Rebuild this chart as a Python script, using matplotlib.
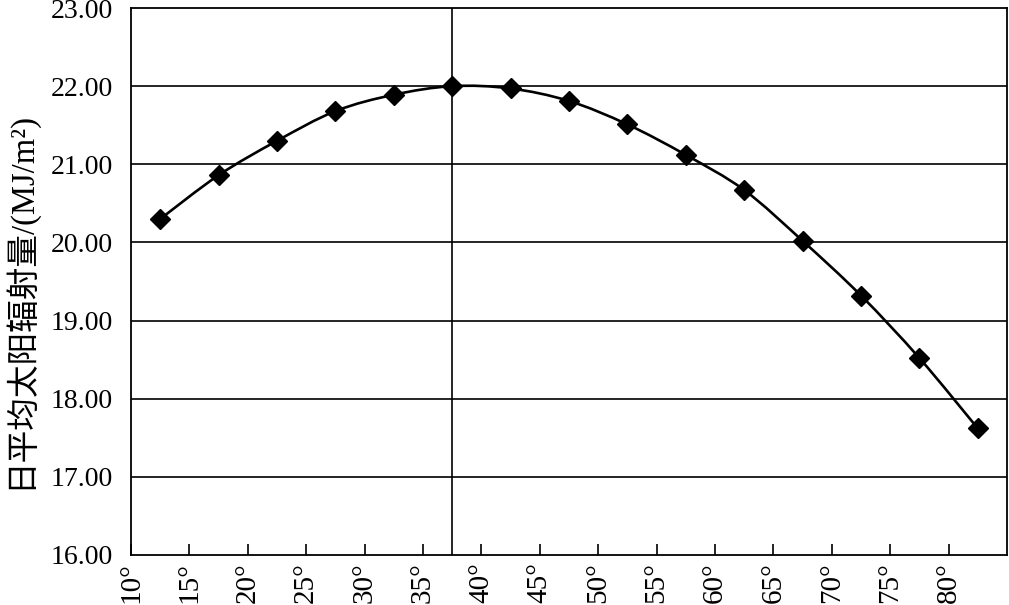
import matplotlib
matplotlib.use("Agg")
import matplotlib.pyplot as plt
from matplotlib.path import Path
from matplotlib.patches import PathPatch
import numpy as np

# Data
tilt_angles = [12.5, 17.5, 22.5, 27.5, 32.5, 37.5, 42.5, 47.5, 52.5, 57.5,
               62.5, 67.5, 72.5, 77.5, 82.5]
radiation = [20.30, 20.86, 21.30, 21.68, 21.89, 22.00, 21.97, 21.81, 21.51,
             21.12, 20.67, 20.02, 19.32, 18.52, 17.62]
x_ticks = [10, 15, 20, 25, 30, 35, 40, 45, 50, 55, 60, 65, 70, 75, 80]
x_tick_labels = [f"{v}°" for v in x_ticks]
y_ticks = [16, 17, 18, 19, 20, 21, 22, 23]
y_tick_labels = [f"{v:.2f}" for v in y_ticks]
optimum_angle = 37.5
y_label = "日平均太阳辐射量/(MJ/m²)"

fonts = ['Liberation Serif', 'Noto Sans CJK SC', 'DejaVu Sans']
plt.rcParams['font.family'] = fonts

fig = plt.figure(figsize=(10.09, 6.05), dpi=100)
ax = fig.add_axes([131 / 1009, 1 - 555 / 605, (1007 - 131) / 1009, (555 - 8) / 605])

ax.set_xlim(10, 85)
ax.set_ylim(16, 23)

# horizontal gridlines
for yv in y_ticks[1:-1]:
    ax.axhline(yv, color='black', lw=1.2, zorder=1)
ax.axvline(optimum_angle, color='black', lw=1.2, zorder=1)

# smoothed line (Catmull-Rom as cubic Bezier)
P = np.column_stack([tilt_angles, radiation])
verts = [tuple(P[0])]
codes = [Path.MOVETO]
n = len(P)
for i in range(n - 1):
    p0 = P[i - 1] if i > 0 else P[i]
    p1 = P[i]
    p2 = P[i + 1]
    p3 = P[i + 2] if i + 2 < n else P[i + 1]
    c1 = p1 + (p2 - p0) / 6.0
    c2 = p2 - (p3 - p1) / 6.0
    verts += [tuple(c1), tuple(c2), tuple(p2)]
    codes += [Path.CURVE4] * 3
patch = PathPatch(Path(verts, codes), facecolor='none', edgecolor='black',
                  lw=1.9, transform=ax.transData, zorder=2)
ax.add_patch(patch)

ax.plot(tilt_angles, radiation, linestyle='none', marker='D', markersize=10,
        color='black', zorder=3)

ax.set_xticks(x_ticks)
ax.set_xticklabels(x_tick_labels, rotation=90, fontsize=21)
ax.set_yticks(y_ticks)
ax.set_yticklabels(y_tick_labels, fontsize=20)
ax.tick_params(axis='x', direction='in', length=8, width=1.2, pad=5)
ax.tick_params(axis='y', length=0, pad=13)
for s in ax.spines.values():
    s.set_color('black')
    s.set_linewidth(1.3)

fig.text(19 / 1009, 1 - 300 / 605, y_label, rotation=90, va='center',
         ha='center', fontsize=23.5)

fig.savefig("out.png", dpi=100)
